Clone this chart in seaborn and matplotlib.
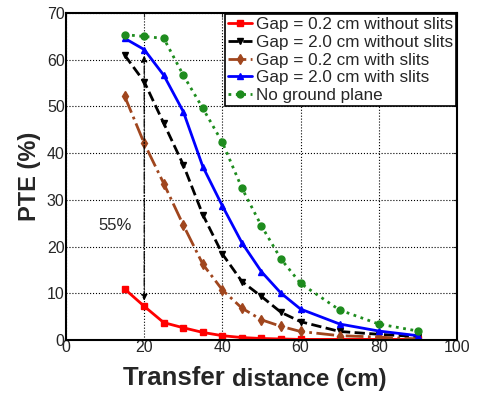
import numpy as np
import pandas as pd
import matplotlib
matplotlib.use("Agg")
import matplotlib.pyplot as plt
import seaborn as sns

# ── Data ──────────────────────────────────────────────────────────────────────
distance = [15, 20, 25, 30, 35, 40, 45, 50, 55, 60, 70, 80, 90]

gap02_no_slits = [10.9, 7.2, 3.7, 2.6, 1.6, 0.9, 0.5, 0.3, 0.2, 0.1, 0.1, 0.1, 0.1]
gap20_no_slits = [61.0, 55.3, 46.4, 37.5, 26.8, 18.4, 12.5, 9.3, 5.9, 3.9, 1.8, 1.2, 0.7]
gap02_slits    = [52.2, 42.1, 33.5, 24.6, 16.2, 10.7, 6.8, 4.3, 2.9, 1.8, 0.9, 0.6, 0.2]
gap20_slits    = [64.6, 62.2, 56.7, 48.9, 37.1, 28.7, 20.8, 14.6, 10.0, 6.6, 3.4, 1.9, 0.9]
no_ground      = [65.4, 65.0, 64.6, 56.7, 49.6, 42.3, 32.5, 24.4, 17.3, 12.1, 6.4, 3.4, 1.9]

labels = [
    "Gap = 0.2 cm without slits",
    "Gap = 2.0 cm without slits",
    "Gap = 0.2 cm with slits",
    "Gap = 2.0 cm with slits",
    "No ground plane",
]
series = [gap02_no_slits, gap20_no_slits, gap02_slits, gap20_slits, no_ground]

styles = [
    dict(color="#ff0000", linestyle="-",  marker="s"),
    dict(color="#000000", linestyle="--", marker="v"),
    dict(color="#a0461e", linestyle="-.", marker="d"),
    dict(color="#0000ff", linestyle="-",  marker="^"),
    dict(color="#1e8c1e", linestyle=":",  marker="o"),
]

sns.set_style("white")
plt.rcParams["font.family"] = ["Liberation Sans", "DejaVu Sans"]

fig = plt.figure(figsize=(4.82, 3.98), dpi=100)
ax = fig.add_axes([0.137, 0.146, 0.811, 0.821])

for vals, lab, st in zip(series, labels, styles):
    df = pd.DataFrame({"distance": distance, "pte": vals})
    sns.lineplot(data=df, x="distance", y="pte", ax=ax, label=lab,
                 linewidth=2, markersize=5, markeredgewidth=1,
                 markeredgecolor=st["color"], **st)

# 55% annotation: double arrow at x = 20
ax.annotate("", xy=(20, 61.5), xytext=(20, 7.8),
            arrowprops=dict(arrowstyle="<|-|>", color="black", lw=0.9,
                            linestyle="-.", mutation_scale=9))
ax.text(12.5, 24.5, "55%", fontsize=12, ha="center", va="center")

ax.set_xlim(0, 100)
ax.set_ylim(0, 70)
ax.set_xticks(np.arange(0, 101, 20))
ax.set_yticks(np.arange(0, 71, 10))
ax.tick_params(direction="in", length=3, labelsize=11.5, top=True, right=True, pad=1)
ax.tick_params(axis="x", pad=0)
ax.grid(True, color="black", linestyle=":", linewidth=0.8)
for sp in ax.spines.values():
    sp.set_color("black")
    sp.set_linewidth(1.5)

ax.set_xlabel("")
ax.set_ylabel("PTE (%)", fontsize=17, fontweight="bold", labelpad=4)

# x label: first word is set larger, as in the source figure
ax.annotate("Transfer ", xy=(0.425, 0), xycoords="axes fraction",
            xytext=(0, -19), textcoords="offset points",
            ha="right", va="top", fontsize=18.5, fontweight="bold")
ax.annotate("distance (cm)", xy=(0.425, 0), xycoords="axes fraction",
            xytext=(0, -20.2), textcoords="offset points",
            ha="left", va="top", fontsize=17.3, fontweight="bold")

leg = ax.legend(loc="upper right", fontsize=12.3, frameon=True, fancybox=False,
                edgecolor="black", framealpha=1, handlelength=1.4,
                handletextpad=0.2, labelspacing=0.15, borderpad=0.2,
                borderaxespad=0.05)
leg.get_frame().set_linewidth(1.2)

fig.savefig("out.png", dpi=100)
